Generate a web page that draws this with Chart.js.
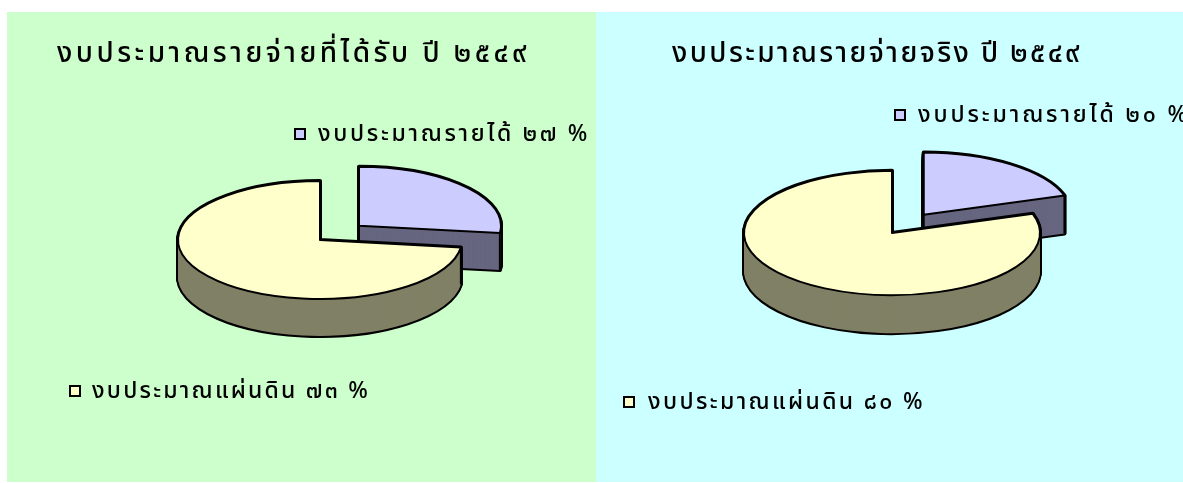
<!DOCTYPE html>
<html><head><meta charset="utf-8">
<script src="https://cdn.jsdelivr.net/npm/chart.js@4.4.1/dist/chart.umd.min.js"></script>
<style>
html,body{margin:0;padding:0;background:#fff;width:1183px;height:483px;overflow:hidden}
#w1{position:absolute;left:7px;top:12px;width:589px;height:470px;background:#ccffcc}
#w2{position:absolute;left:596px;top:12px;width:587px;height:470px;background:#ccffff}
canvas{display:block}
</style></head><body>
<div id="w1"><canvas id="c1" width="589" height="470"></canvas></div>
<div id="w2"><canvas id="c2" width="587" height="470"></canvas></div>
<script>
// ---- data ----
const categories = ['งบประมาณรายได้', 'งบประมาณแผ่นดิน'];
const receivedValues = [27, 73];
const actualValues = [20, 80];
const receivedTitle = 'งบประมาณรายจ่ายที่ได้รับ ปี ๒๕๔๙';
const actualTitle = 'งบประมาณรายจ่ายจริง ปี ๒๕๔๙';

const topColors = ['#ccccff', '#ffffcc'];
const sideColors = ['#666680', '#808066'];
const THAI_FONT = "'Noto Sans Thai','Noto Sans Thai UI','Tlwg Typo','Loma','Garuda','Waree','Noto Sans',sans-serif";

function toThaiDigits(n) {
  return String(n).replace(/[0-9]/g, d => '๐๑๒๓๔๕๖๗๘๙'[+d]);
}

function sectorPath(ctx, a, k, dy) {
  ctx.beginPath();
  ctx.moveTo(a.cx, a.cy + dy);
  ctx.ellipse(a.cx, a.cy + dy, a.r, a.r * k, 0, a.s, a.e);
  ctx.closePath();
}

const pie3d = {
  id: 'pie3d',
  beforeDatasetsDraw(chart, args, opts) {
    const meta = chart.getDatasetMeta(0);
    const ctx = chart.ctx;
    const k = opts.tilt, depth = opts.depth, bw = opts.borderWidth;
    const arcs = meta.data.map((el, i) => {
      const p = el.getProps(['x', 'y', 'startAngle', 'endAngle', 'outerRadius'], true);
      const o = el.options;
      const mid = (p.startAngle + p.endAngle) / 2;
      const off = o.offset || 0;
      return {
        cx: p.x + Math.cos(mid) * off,
        cy: p.y + Math.sin(mid) * off * k,
        r: p.outerRadius, s: p.startAngle, e: p.endAngle,
        fill: o.backgroundColor, side: opts.sideColors[i % opts.sideColors.length]
      };
    });
    arcs.sort((a, b) => a.cy - b.cy);
    ctx.save();
    ctx.lineJoin = 'round';
    for (const a of arcs) {
      ctx.fillStyle = '#000';
      ctx.strokeStyle = '#000';
      ctx.lineWidth = bw * 2;
      for (let d = depth; d >= 0; d--) { sectorPath(ctx, a, k, d); ctx.fill(); ctx.stroke(); }
      ctx.fillStyle = a.side;
      for (let d = depth; d >= 0; d--) { sectorPath(ctx, a, k, d); ctx.fill(); }
      ctx.lineWidth = bw;
      const pts = [[a.cx, a.cy],
        [a.cx + a.r * Math.cos(a.s), a.cy + a.r * k * Math.sin(a.s)],
        [a.cx + a.r * Math.cos(a.e), a.cy + a.r * k * Math.sin(a.e)]];
      for (const [x, y] of pts) {
        ctx.beginPath(); ctx.moveTo(x, y); ctx.lineTo(x, y + depth); ctx.stroke();
      }
      sectorPath(ctx, a, k, 0);
      ctx.fillStyle = a.fill; ctx.fill();
      ctx.lineWidth = bw; ctx.stroke();
    }
    ctx.restore();
    return false;
  }
};

function fitText(ctx, text, x, y, font, width) {
  ctx.font = font;
  ctx.letterSpacing = '0px';
  const w = ctx.measureText(text).width;
  const n = [...new Intl.Segmenter('th', {granularity: 'grapheme'}).segment(text)].length;
  ctx.letterSpacing = ((width - w) / n) + 'px';
  ctx.fillText(text, x, y);
  ctx.letterSpacing = '0px';
}

const panelText = {
  id: 'panelText',
  afterDraw(chart, args, opts) {
    const ctx = chart.ctx;
    ctx.save();
    ctx.fillStyle = '#000';
    ctx.textAlign = 'left';
    ctx.textBaseline = 'alphabetic';
    const t = opts.title;
    fitText(ctx, t.text, t.x, t.y, t.font, t.width);
    const labels = chart.data.labels;
    const ds = chart.data.datasets[0];
    opts.items.forEach((it, i) => {
      ctx.fillStyle = ds.backgroundColor[i];
      ctx.fillRect(it.bx, it.by, it.bs, it.bs);
      ctx.strokeStyle = '#000'; ctx.lineWidth = 2;
      ctx.strokeRect(it.bx, it.by, it.bs, it.bs);
      ctx.fillStyle = '#000';
      const txt = labels[i] + ' ' + toThaiDigits(ds.data[i]) + ' %';
      fitText(ctx, txt, it.x, it.y, it.font, it.width);
    });
    ctx.restore();
  }
};

function makeChart(id, values, cfg) {
  return new Chart(document.getElementById(id), {
    type: 'pie',
    data: {
      labels: categories,
      datasets: [{
        data: values,
        backgroundColor: topColors,
        borderColor: '#000',
        borderWidth: 2,
        offset: [cfg.explode, 0]
      }]
    },
    options: {
      responsive: false,
      animation: false,
      radius: cfg.radius,
      layout: { padding: cfg.padding },
      events: [],
      plugins: {
        legend: { display: false },
        tooltip: { enabled: false },
        title: { display: false },
        pie3d: { tilt: cfg.tilt, depth: cfg.depth, borderWidth: 2, sideColors: sideColors },
        panelText: { title: cfg.title, items: cfg.items }
      }
    },
    plugins: [pie3d, panelText]
  });
}

const TITLE_FONT = '500 28px ' + THAI_FONT;
const LEGEND_FONT = '500 23px ' + THAI_FONT;

makeChart('c1', receivedValues, {
  explode: 52, radius: 142, tilt: 0.415, depth: 37,
  padding: { left: 37, right: 0, top: 0, bottom: 14 },
  title: { text: receivedTitle, x: 50, y: 50, width: 473, font: TITLE_FONT },
  items: [
    { bx: 288, by: 117, bs: 10, x: 311, y: 129, width: 272, font: LEGEND_FONT },
    { bx: 63, by: 374, bs: 10, x: 85, y: 386, width: 278, font: LEGEND_FONT }
  ]
});

makeChart('c2', actualValues, {
  explode: 54, radius: 148, tilt: 0.42, depth: 38,
  padding: { left: 5, right: 0, top: 0, bottom: 28 },
  title: { text: actualTitle, x: 76, y: 50, width: 410, font: TITLE_FONT },
  items: [
    { bx: 299, by: 98, bs: 10, x: 322, y: 110, width: 272, font: LEGEND_FONT },
    { bx: 28, by: 385, bs: 10, x: 52, y: 397, width: 277, font: LEGEND_FONT }
  ]
});
</script>
</body></html>
